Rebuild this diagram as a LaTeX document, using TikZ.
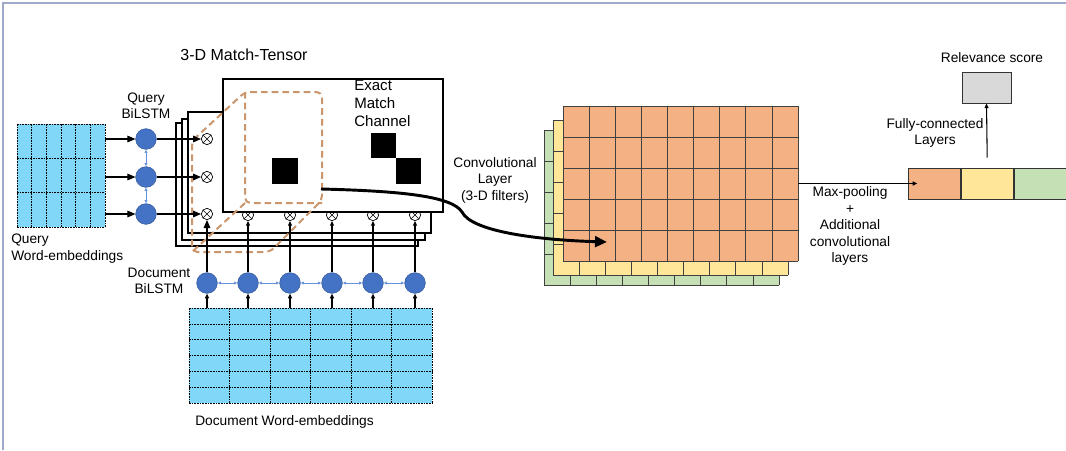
\documentclass[tikz,border=0pt]{standalone}
\usepackage{fontspec}
\setmainfont{Liberation Sans}
\usetikzlibrary{arrows.meta,positioning}

\definecolor{embblue}{RGB}{128,215,248}
\definecolor{lstmblue}{RGB}{68,114,196}
\definecolor{linkblue}{RGB}{100,145,220}
\definecolor{tanline}{RGB}{203,150,108}
\definecolor{convorange}{RGB}{244,177,131}
\definecolor{convyellow}{RGB}{255,230,153}
\definecolor{convgreen}{RGB}{197,224,180}
\definecolor{scoregray}{RGB}{217,217,217}
\definecolor{framegray}{RGB}{160,170,200}

\begin{document}
\begin{tikzpicture}[x=0.75pt,y=-0.75pt,font=\fontsize{10.3}{12.4}\selectfont,
  lstm/.style={circle,fill=lstmblue,draw=lstmblue!80!black,minimum size=15.5pt},
  mult/.style={circle,draw,fill=white,line width=0.5pt,minimum size=8.5pt,
    path picture={\draw[line width=0.5pt] ([shift={(-3pt,-3pt)}]path picture bounding box.center) -- ++(6pt,6pt)
      ([shift={(-3pt,3pt)}]path picture bounding box.center) -- ++(6pt,-6pt);}},
  emb/.style={fill=embblue,draw=none},
  feed/.style={-{Triangle[length=6pt,width=5pt]},line width=0.8pt},
  feedsmall/.style={-{Triangle[length=3.5pt,width=3pt]},line width=0.8pt},
  link/.style={{Latex[length=2.5pt,width=2.5pt]}-{Latex[length=2.5pt,width=2.5pt]},draw=linkblue,line width=0.6pt},
  sheet/.style={draw,fill=white,line width=0.8pt},
  tanbox/.style={draw=tanline,line width=1.5pt,dash pattern=on 5pt off 3pt,rounded corners=4pt},
  cell/.style={draw=black!75,line width=0.5pt},
  gridline/.style={line width=0.5pt,dash pattern=on 1.2pt off 0.8pt},
  poolcell/.style={draw=black!80,line width=0.6pt,minimum width=39pt,minimum height=23.25pt,anchor=west}]
\tikzstyle{every node}+=[inner sep=0pt]
\useasboundingbox (0,0) rectangle (1066,450);
% frame
\draw[framegray,line width=1.2pt] (3,450) -- (3,3) -- (1066,3);

% query word-embeddings
\node[emb,minimum width=66pt,minimum height=77.25pt] (qemb) at (61,175.5) {};
\foreach \i in {0,...,6}
  \draw[gridline] ({17+\i*88/6},124) -- ({17+\i*88/6},227);
\foreach \j in {0,...,3}
  \draw[gridline] (17,{124+\j*103/3}) -- (105,{124+\j*103/3});
\node[align=left,anchor=north west] (qemblabel) at (11,234) {Query\\Word-embeddings};

% document word-embeddings
\node[emb,minimum width=182.25pt,minimum height=71.25pt] (demb) at (310.5,355.5) {};
\foreach \i in {0,...,6}
  \draw[gridline] ({189+\i*40.5},308) -- ({189+\i*40.5},403);
\foreach \j in {0,...,6}
  \draw[gridline] (189,{308+\j*95/6}) -- (432,{308+\j*95/6});
\node (demblabel) at (284.5,422) {Document Word-embeddings};

% match-tensor sheets
\node[font=\fontsize{12}{14}\selectfont] (tensorlabel) at (244,55) {3-D Match-Tensor};
\draw[sheet] (176,123) rectangle (418,246);
\draw[sheet] (182,119) rectangle (425,240);
\draw[sheet] (188,112) rectangle (431,233);
\node[mult] (m1) at (207,139) {};
\node[mult] (m2) at (207,177) {};
\node[mult] (m3) at (207,214) {};
\foreach \x [count=\k from 2] in {248,290,332,373,415}
  \node[mult] (b\k) at (\x,215) {};
\draw[sheet] (223,79) rectangle (443,212);
\node[align=left,anchor=north west,font=\fontsize{11.3}{13.5}\selectfont] (exactlabel) at (354,80) {Exact\\Match\\Channel};
\fill (272,158) rectangle (298,184);
\fill (371,133) rectangle (396,158);
\fill (396,158) rectangle (421,184);

% filter cube
\draw[tanbox] (245,92) -- (322,92) -- (322,200) -- (270,252) -- (192,252) -- (192,141) -- cycle;
\draw[tanbox] (245,92) -- (245,203) -- (322,203);
\draw[tanbox] (245,203) -- (192,252);

% query BiLSTM
\node[align=center] (qlstmlabel) at (146,106) {Query\\BiLSTM};
\node[lstm] (q1) at (146,139) {};
\node[lstm] (q2) at (146,177) {};
\node[lstm] (q3) at (146,214) {};
\draw[link] (q1) -- (q2);
\draw[link] (q2) -- (q3);
\foreach \k in {1,2,3} {
  \draw[feed] (qemb.east |- q\k) -- (q\k);
  \draw[feed] (q\k) -- (m\k);
}

% document BiLSTM
\node[align=center] (dlstmlabel) at (159,281) {Document\\BiLSTM};
\foreach \x [count=\k] in {207,248,290,332,373,415}
  \node[lstm] (d\k) at (\x,283) {};
\foreach \k [remember=\k as \p (initially 1)] in {2,...,6}
  \draw[link] (d\p) -- (d\k);
\foreach \k in {1,...,6}
  \draw[feedsmall] (demb.north -| d\k) -- (d\k);
\draw[feed] (d1) -- (m3);
\foreach \k in {2,...,6}
  \draw[feedsmall] (d\k) -- (b\k);

% convolutional layer
\foreach \dx/\dy/\col in {-19/24/convgreen,-10/14/convyellow,0/0/convorange} {
  \fill[\col] ({563+\dx},{106+\dy}) rectangle ({798+\dx},{261+\dy});
  \foreach \i in {0,...,9}
    \draw[cell] ({563+\dx+\i*235/9},{106+\dy}) -- ++(0,155);
  \foreach \j in {0,...,5}
    \draw[cell] ({563+\dx},{106+\dy+\j*31}) -- ++(235,0);
}
\node[minimum width=176.25pt,minimum height=116.25pt] (conv) at (680.5,183.5) {};
\node[align=center] (convlabel) at (495,180) {Convolutional\\Layer\\(3-D filters)};

\coordinate (filterout) at (321,189);
\coordinate (convin) at (607,242);
\draw[line width=2.2pt,-{Triangle[length=9pt,width=8pt]}] (filterout) .. controls (400,191) and (452,196) .. (462,212) .. controls (472,232) and (540,240) .. (convin);

% pooled vector and score
\node[poolcell,fill=convorange] (pool1) at (908,183.5) {};
\node[poolcell,fill=convyellow] (pool2) at (pool1.east) {};
\node[poolcell,fill=convgreen] (pool3) at (pool2.east) {};
\draw[feedsmall] (conv.east) -- ([xshift=7pt]pool1.west);
\node[align=center] (poollabel) at (850,226) {Max-pooling\\+\\Additional\\convolutional\\layers};

\node[draw=black!80,fill=scoregray,line width=0.6pt,minimum width=36.75pt,minimum height=23.25pt] (score) at (986.5,87.5) {};
\node (scorelabel) at (992,58) {Relevance score};
\draw[feedsmall] ([yshift=7.5pt]pool2.north) -- (score.south);
\node[align=center] (fclabel) at (935,133) {Fully-connected\\Layers};
\end{tikzpicture}
\end{document}
